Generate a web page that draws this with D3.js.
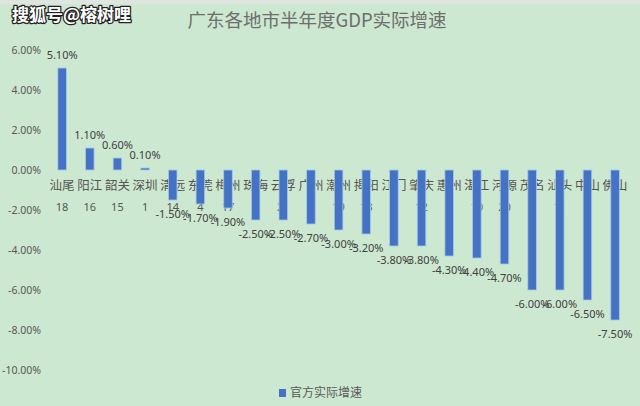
<!DOCTYPE html>
<html><head><meta charset="utf-8">
<script src="https://cdn.jsdelivr.net/npm/d3@7/dist/d3.min.js"></script>
<style>
html,body{margin:0;padding:0;background:#cde8d0;}
svg{display:block;font-family:"Noto Sans CJK SC","Noto Sans",sans-serif;}
</style></head>
<body>
<svg id="c" width="640" height="406"></svg>
<script>
const cities = ["汕尾","阳江","韶关","深圳","清远","东莞","梅州","珠海","云浮","广州","潮州","揭阳","江门","肇庆","惠州","湛江","河源","茂名","汕头","中山","佛山"];
const ranks = ["18","16","15","1","14","4","17","6","21","2","19","13","8","12","5","10","20","7","11","9","3"];
const growth = [5.1,1.1,0.6,0.1,-1.5,-1.7,-1.9,-2.5,-2.5,-2.7,-3.0,-3.2,-3.8,-3.8,-4.3,-4.4,-4.7,-6.0,-6.0,-6.5,-7.5];
const yTicks = [6,4,2,0,-2,-4,-6,-8,-10];
const title = "广东各地市半年度GDP实际增速";
const seriesName = "官方实际增速";
const watermark = "搜狐号@榕树哩";

const pct = d => d3.format(".2f")(d).replace("−","-") + "%";

const svg = d3.select("#c");
svg.append("rect").attr("width",640).attr("height",406).attr("fill","#cde8d0");
svg.append("rect").attr("width",640).attr("height",4).attr("fill","#dfe6e0");

const x = d3.scaleBand().domain(cities).range([48.3,628.9]).paddingInner(0.69).paddingOuter(0.345);
const y = d3.scaleLinear().domain([-10,6]).range([370,50]);

// y axis labels
const yAxis = d3.axisLeft(y).tickValues(yTicks).tickFormat(pct).tickSize(0).tickPadding(0);
const ga = svg.append("g").attr("transform","translate(41,0)").call(yAxis);
ga.select(".domain").remove();
ga.selectAll("text").attr("fill","#595959").attr("font-size",10.5).attr("font-family","'Noto Sans','DejaVu Sans',sans-serif");

// category labels and rank numbers (under the bars)
const cx = d=>x(d)+x.bandwidth()/2;
svg.append("g").selectAll("text").data(cities).join("text")
  .attr("x",d=>cx(d)).attr("y",190).attr("text-anchor","middle")
  .attr("font-size",12.5).attr("fill","#555").text(d=>d);
svg.append("g").selectAll("text").data(ranks).join("text")
  .attr("x",(d,i)=>cx(cities[i])).attr("y",211).attr("text-anchor","middle")
  .attr("font-size",11).attr("fill","#555").attr("font-family","'Noto Sans',sans-serif").text(d=>d);

// bars
svg.append("g").selectAll("rect").data(growth).join("rect")
  .attr("x",(d,i)=>x(cities[i])).attr("width",x.bandwidth())
  .attr("y",d=>y(Math.max(0,d))).attr("height",d=>Math.max(1.5,Math.abs(y(d)-y(0))))
  .attr("fill","#4472c4").attr("stroke","#a9c8e8").attr("stroke-width",0.8);

// value labels
svg.append("g").selectAll("text").data(growth).join("text")
  .attr("x",(d,i)=>cx(cities[i]))
  .attr("y",d=>d>=0 ? y(d)-9 : y(d)+18)
  .attr("text-anchor","middle").attr("font-size",11).attr("fill","#404040")
  .attr("font-family","'Noto Sans',sans-serif")
  .text(pct);

// title
svg.append("text").attr("x",317).attr("y",27).attr("text-anchor","middle")
  .attr("font-size",18.5).attr("fill","#6e6e6e").text(title);

// watermark
svg.append("text").attr("x",12).attr("y",21).attr("font-size",17).attr("font-weight","bold")
  .attr("fill","#fff").attr("stroke","#222").attr("stroke-width",2.5)
  .attr("stroke-linejoin","round").attr("paint-order","stroke").text(watermark);

// legend
svg.append("rect").attr("x",279).attr("y",389).attr("width",7).attr("height",8).attr("fill","#4472c4");
svg.append("text").attr("x",290).attr("y",397).attr("font-size",12).attr("fill","#595959").text(seriesName);
</script>
</body></html>
